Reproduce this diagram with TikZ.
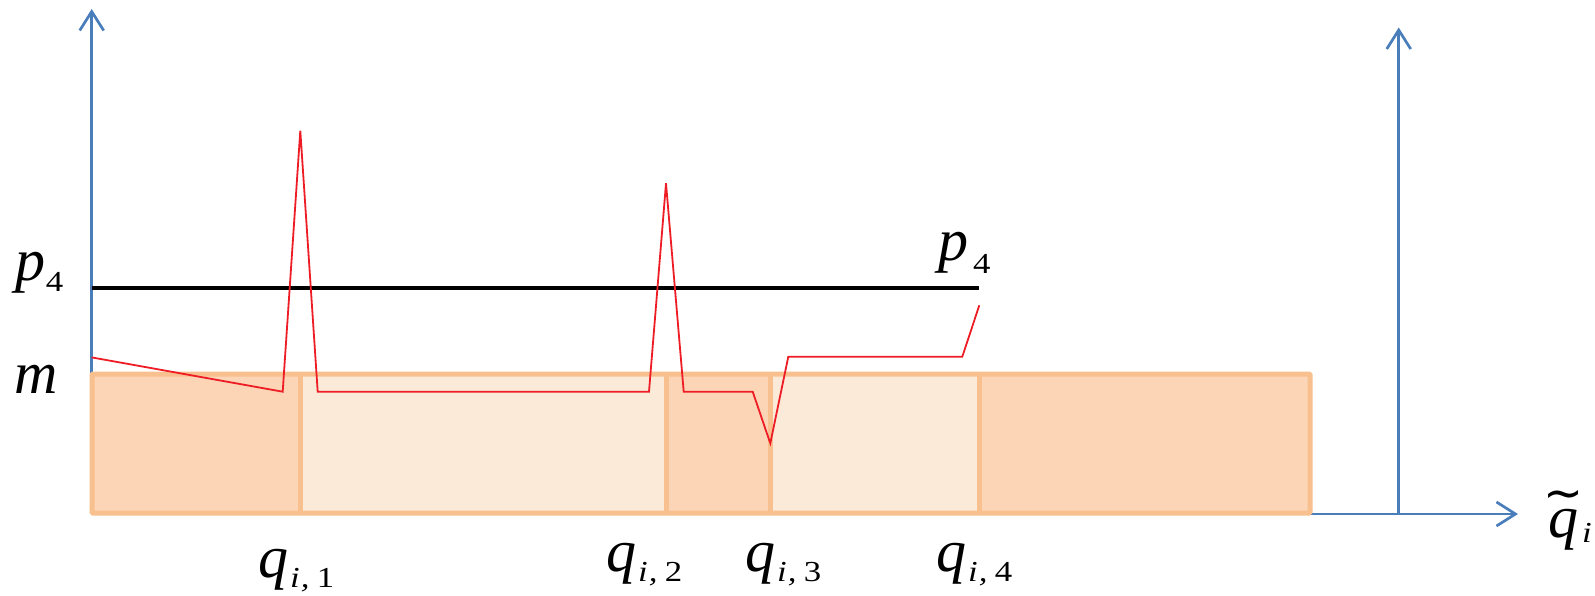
\documentclass[tikz,border=0pt]{standalone}
\usepackage{fontspec}
\usepackage{graphicx}
\setmainfont{Liberation Serif}
\newfontfamily\tildefont{DejaVu Sans}
\usetikzlibrary{arrows.meta}
\definecolor{axisblue}{HTML}{4A7EBB}
\definecolor{barborder}{HTML}{F8C08E}
\definecolor{bardark}{HTML}{FBD5B6}
\definecolor{barlight}{HTML}{FCEAD9}
\definecolor{pathred}{HTML}{EE1C25}
\newcommand{\mainsize}{\fontsize{60}{62}\selectfont}
\newcommand{\subsize}{\fontsize{29}{30}\selectfont}
\newcommand{\subtext}[2]{\raisebox{-#1}{\scalebox{1.2}[1]{\subsize #2}}}
\newcommand{\qlab}[1]{{\itshape q}\kern2pt\subtext{10pt}{\itshape i\kern1pt,\kern6pt\upshape #1}}
\begin{document}
\begin{tikzpicture}[x=1pt,y=-1pt,
  axisline/.style={draw=axisblue, line width=2.7pt, -{Straight Barb[length=19pt,width=24pt]}},
  lab/.style={anchor=base west, inner sep=0pt, outer sep=0pt, font=\mainsize},
  barframe/.style={draw=barborder, line width=5pt},
  pricepath/.style={draw=pathred, line width=1.8pt, line join=miter},
  levelline/.style={draw=black, line width=4pt}]
\useasboundingbox (0,0) rectangle (1595,596);
% axes
\coordinate (O) at (91.7,514);
\coordinate (ytop) at (91.7,9);
\coordinate (xend) at (1518,514);
\coordinate (O2) at (1398.7,514);
\coordinate (y2top) at (1398.7,27.5);
\draw[axisline] (O) -- (ytop);
\draw[axisline] (O) -- (xend);
\draw[axisline] (O2) -- (y2top);
% bar segments
\fill[bardark]  (92,374) rectangle (300,513);
\fill[barlight] (300,374) rectangle (666,513);
\fill[bardark]  (666,374) rectangle (770.3,513);
\fill[barlight] (770.3,374) rectangle (979.3,513);
\fill[bardark]  (979.3,374) rectangle (1310,513);
\draw[barframe, rounded corners=1pt] (92,374) rectangle (1310,513);
\draw[barframe] (300,374) -- (300,513);
\draw[barframe] (666,374) -- (666,513);
\draw[barframe] (770.3,374) -- (770.3,513);
\draw[barframe] (979.3,374) -- (979.3,513);
% level p4
\coordinate (pl) at (91.7,287.5);
\coordinate (pr) at (979.3,287.5);
\draw[levelline] (pl) -- (pr);
% red path
\coordinate (r0) at (91.7,357.4);
\draw[pricepath] (r0) -- (282.7,391.7) -- (300.3,130.7) -- (317.7,391.7)
  -- (649,391.7) -- (666,183.3) -- (683.7,391.7) -- (752.7,391.7)
  -- (770.3,443.3) -- (788.3,356.7) -- (962.3,356.7) -- (979.3,305.3);
% labels
\node[lab] (pleft) at (15,280) {\itshape p\kern1pt\subtext{11pt}{\upshape 4}};
\node[lab] (mlab) at (14,393) {\itshape m};
\node[lab] (pright) at (938,260) {\itshape p\kern5pt\subtext{13pt}{\upshape 4}};
\node[lab] (q1) at (258,577) {\qlab{1}};
\node[lab] (q2) at (606,571) {\qlab{2}};
\node[lab] (q3) at (745,571) {\qlab{3}};
\node[lab] (q4) at (936,571) {\qlab{4}};
\node[lab] (qt) at (1548,537) {\itshape q\kern4pt\subtext{5pt}{i}};
\node[anchor=north, inner sep=0pt, outer sep=0pt] (qtilde) at (1563,490)
  {\resizebox{40pt}{!}{\tildefont ∼}};
\end{tikzpicture}
\end{document}
